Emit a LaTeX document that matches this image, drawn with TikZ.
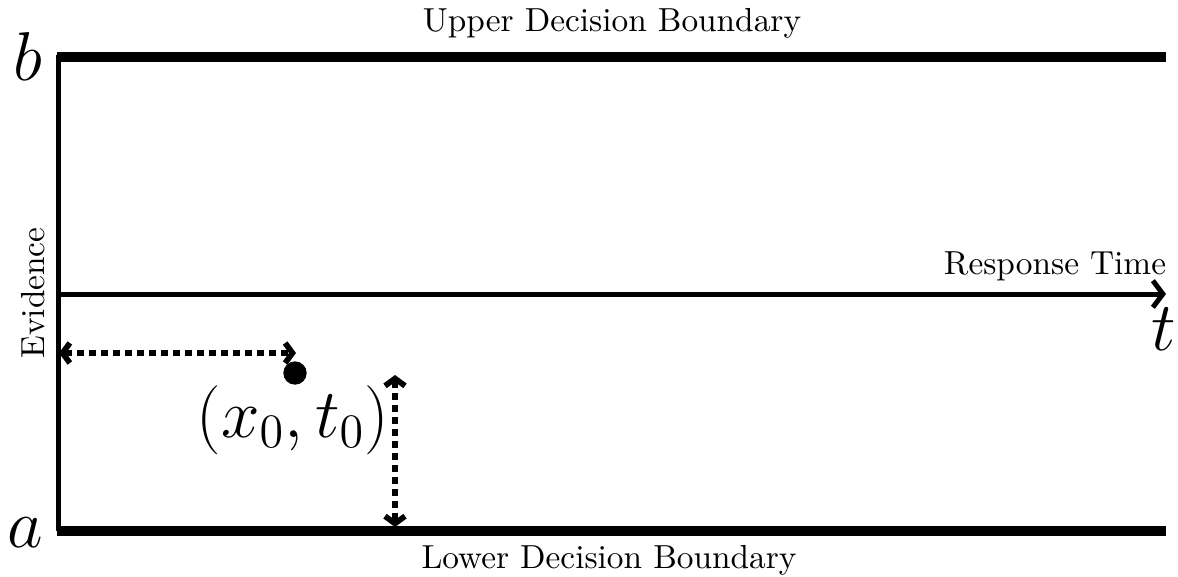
\documentclass[tikz,border=0pt]{standalone}
\usetikzlibrary{arrows.meta}
\begin{document}
\begin{tikzpicture}[x=0.3pt,y=-0.3pt,
  boundary/.style={line width=3pt},
  axisline/.style={line width=1.5pt},
  dasharrow/.style={line width=1.7pt, dash pattern=on 2pt off 1.6pt, {Straight Barb[length=2.2pt,width=6pt]}-{Straight Barb[length=2.2pt,width=6pt]}},
  lbl/.style={font=\normalsize, inner sep=0pt},
  bigmath/.style={font=\huge, inner sep=0pt}]
\useasboundingbox (0,0) rectangle (1178,576);
% corner coordinates
\coordinate (tl) at (57,57);
\coordinate (tr) at (1166,57);
\coordinate (bl) at (57,531);
\coordinate (br) at (1166,531);
\coordinate (vtop) at (58.5,55);
\coordinate (vbot) at (58.5,531);
\coordinate (ax0) at (58.5,294);
\coordinate (ax1) at (1166,294);
% boundaries
\draw[boundary] (tl) -- (tr);
\draw[boundary] (bl) -- (br);
\draw[axisline] (vtop) -- (vbot);
\draw[axisline, -{Straight Barb[length=3pt,width=8pt]}] (ax0) -- (ax1);
% start point
\node[circle, fill=black, minimum size=7pt, inner sep=0pt] (x0) at (295,373) {};
\node[bigmath] (x0lbl) at (293,420) {$(x_0,t_0)$};
\coordinate (h0) at (59,353);
\coordinate (h1) at (296,353);
\coordinate (v0) at (395,375);
\coordinate (v1) at (395,527);
\draw[dasharrow] (h0) -- (h1);
\draw[dasharrow] (v0) -- (v1);
% labels
\node[lbl] (upper) at (612,23) {Upper Decision Boundary};
\node[lbl] (lower) at (609,560) {Lower Decision Boundary};
\node[lbl] (resp) at (1055,266) {Response Time};
\node[lbl, rotate=90] (evid) at (33,293) {Evidence};
\node[bigmath, anchor=base] (b) at (28,80) {$b$};
\node[bigmath, anchor=base] (a) at (25,547) {$a$};
\node[bigmath, anchor=base] (t) at (1164,350) {$t$};
\end{tikzpicture}
\end{document}
